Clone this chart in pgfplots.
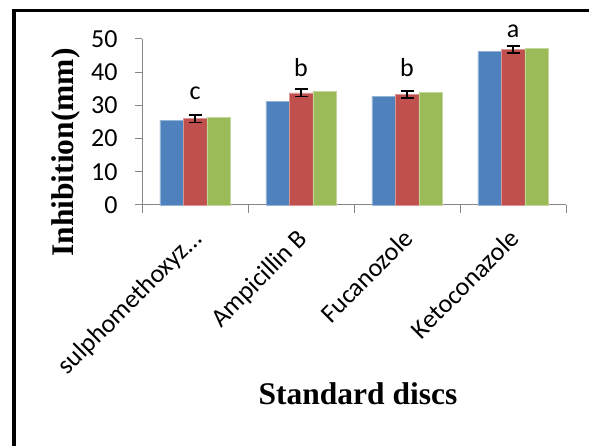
\documentclass[border=0pt]{standalone}
\usepackage{pgfplots}
\pgfplotsset{compat=1.18}
\usepackage{fontspec}
\setmainfont{Liberation Serif}
\newfontfamily\calfont{Carlito}
\definecolor{cblue}{HTML}{4F81BD}
\definecolor{cred}{HTML}{C0504D}
\definecolor{cgreen}{HTML}{9BBB59}
\definecolor{axgray}{HTML}{868686}
\begin{document}
\begin{tikzpicture}[x=1bp,y=1bp]
\path[use as bounding box] (0,0) rectangle (589,446);
\clip (0,0) rectangle (589,446);
\draw[line width=3.5bp] (14.2,-10) -- (14.2,435.5) -- (600,435.5);
\begin{axis}[
  at={(142bp,241bp)}, anchor=south west,
  scale only axis, width=424bp, height=166bp,
  xmin=-0.5, xmax=3.5, ymin=0, ymax=50,
  clip=false,
  ybar=0pt, bar width=23.5bp,
  axis x line=bottom, axis y line=left,
  axis line style={axgray, line width=1bp, -},
  xtick={0,1,2,3},
  xticklabels={sulphomethoxyz…, Ampicillin B, Fucanozole, Ketoconazole},
  minor xtick={-0.5,0.5,1.5,2.5,3.5},
  major x tick style={draw=none},
  minor x tick style={axgray, line width=1bp},
  minor tick length=8bp,
  ytick={0,10,20,30,40,50},
  major y tick style={axgray, line width=1bp},
  major tick length=7bp,
  tick align=outside,
  /pgf/number format/assume math mode=true,
  yticklabel style={font=\calfont\fontsize{26bp}{30bp}\selectfont, xshift=-14bp},
  xticklabel style={font=\calfont\fontsize{26bp}{30bp}\selectfont, xshift=-5bp, yshift=-14bp, rotate=45, anchor=north east, inner sep=1bp},
]
\addplot[fill=cblue, draw=cblue!60!white, line width=0.5bp] coordinates {(0,25.6) (1,31.3) (2,32.8) (3,46.2)};
\addplot[fill=cred, draw=cred!60!white, line width=0.5bp,
  error bars/.cd, y dir=both, y explicit,
  error bar style={black, line width=1.6bp},
  error mark options={black, line width=1.6bp, mark size=6.5bp, rotate=90}]
  coordinates {(0,26.0) +- (0,1.1) (1,33.8) +- (0,1.1) (2,33.3) +- (0,1.05) (3,46.8) +- (0,1.1)};
\addplot[fill=cgreen, draw=cgreen!60!white, line width=0.5bp] coordinates {(0,26.5) (1,34.3) (2,33.9) (3,47.2)};
\node[font=\calfont\fontsize{26bp}{30bp}\selectfont] at (axis cs:0,33.6) {c};
\node[font=\calfont\fontsize{26bp}{30bp}\selectfont] at (axis cs:1,41.5) {b};
\node[font=\calfont\fontsize{26bp}{30bp}\selectfont] at (axis cs:2,41.5) {b};
\node[font=\calfont\fontsize{26bp}{30bp}\selectfont] at (axis cs:3,52.2) {a};
\end{axis}
\node[rotate=90, font=\bfseries\fontsize{31.5bp}{36bp}\selectfont] at (66,293.5) {Inhibition(mm)};
\node[anchor=base, font=\bfseries\fontsize{31.5bp}{36bp}\selectfont] at (358,41) {Standard discs};
\end{tikzpicture}
\end{document}
